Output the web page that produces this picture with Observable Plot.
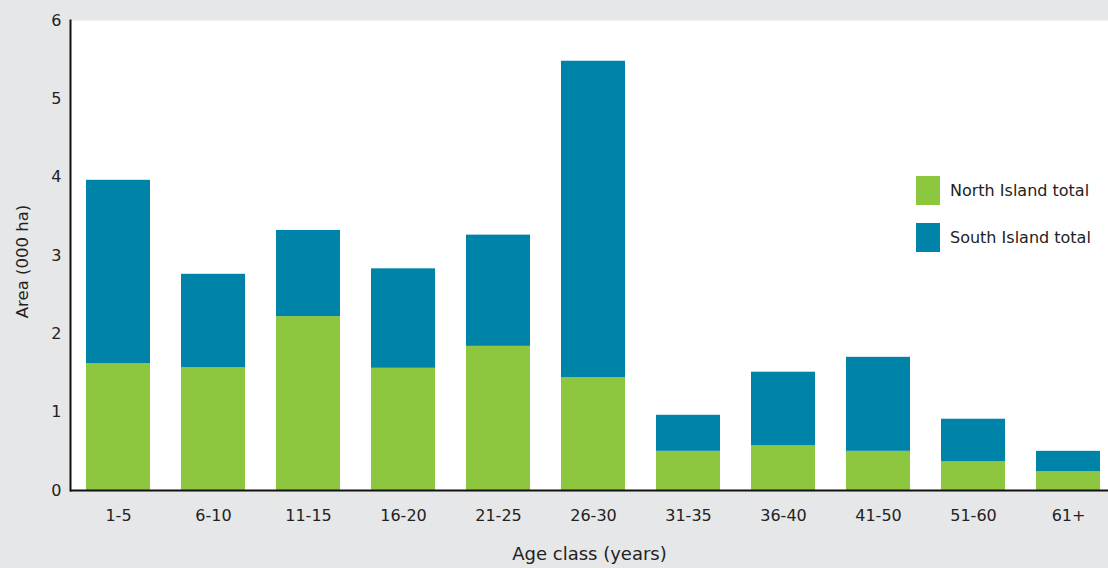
<!DOCTYPE html>
<html>
<head>
<meta charset="utf-8">
<script src="https://cdn.jsdelivr.net/npm/d3@7"></script>
<script src="https://cdn.jsdelivr.net/npm/@observablehq/plot@0.6"></script>
<style>
  html, body { margin: 0; padding: 0; background: #e6e7e8; }
  #wrap { position: relative; width: 1108px; height: 568px; font-family: "DejaVu Sans", sans-serif; }
  #wrap svg { display: block; }
  .legend { position: absolute; left: 916px; top: 0; font-size: 16px; color: #222; }
  .legend .row { position: absolute; display: flex; align-items: center; white-space: nowrap; }
  .legend .sw { width: 24px; height: 29px; margin-right: 10px; }
</style>
</head>
<body>
<div id="wrap"></div>
<script>
const ageClasses = ["1-5","6-10","11-15","16-20","21-25","26-30","31-35","36-40","41-50","51-60","61+"];
const northIsland = [1.62, 1.57, 2.22, 1.56, 1.84, 1.44, 0.50, 0.57, 0.50, 0.37, 0.24];
const southIsland = [2.34, 1.19, 1.10, 1.27, 1.42, 4.04, 0.46, 0.94, 1.20, 0.54, 0.26];
const seriesNames = ["North Island total", "South Island total"];
const seriesColors = ["#8dc63f", "#0083a9"];
const yTicks = [0, 1, 2, 3, 4, 5, 6];
const xTitle = "Age class (years)";
const yTitle = "Area (000 ha)";

const data = [];
ageClasses.forEach((a, i) => {
  data.push({age: a, series: seriesNames[0], value: northIsland[i]});
  data.push({age: a, series: seriesNames[1], value: southIsland[i]});
});

const chart = Plot.plot({
  width: 1108,
  height: 568,
  marginTop: 20,
  marginLeft: 70,
  marginRight: 0,
  marginBottom: 78,
  style: {background: "transparent", fontFamily: "'DejaVu Sans', sans-serif", fontSize: "16px", color: "#222"},
  x: {domain: ageClasses, range: [70, 1115], paddingInner: 0.33, paddingOuter: 0.165, label: null},
  y: {domain: [0, 6], label: null},
  color: {domain: seriesNames, range: seriesColors},
  marks: [
    Plot.frame({fill: "white", stroke: null}),
    Plot.barY(data, {x: "age", y: "value", fill: "series", order: seriesNames}),
    Plot.axisY({ticks: yTicks, tickFormat: "d", tickSize: 0, tickPadding: 9, label: null, fontSize: 16}),
    Plot.axisX({tickSize: 0, tickPadding: 19, label: null, fontSize: 16}),
    Plot.text([xTitle], {frameAnchor: "bottom", dy: 69, fontSize: 18, fill: "#222"}),
    Plot.text([yTitle], {frameAnchor: "left", textAnchor: "middle", rotate: -90, dx: -48, dy: 6, fontSize: 16.5, fill: "#222"}),
    Plot.frame({anchor: "left", stroke: "#111", strokeWidth: 2}),
    Plot.ruleY([0], {stroke: "#111", strokeWidth: 2})
  ]
});

const wrap = document.getElementById("wrap");
wrap.appendChild(chart);

const legend = document.createElement("div");
legend.className = "legend";
seriesNames.forEach((name, i) => {
  const row = document.createElement("div");
  row.className = "row";
  row.style.top = (176 + i * 47) + "px";
  row.innerHTML = `<div class="sw" style="background:${seriesColors[i]}"></div><span>${name}</span>`;
  legend.appendChild(row);
});
wrap.appendChild(legend);
</script>
</body>
</html>
